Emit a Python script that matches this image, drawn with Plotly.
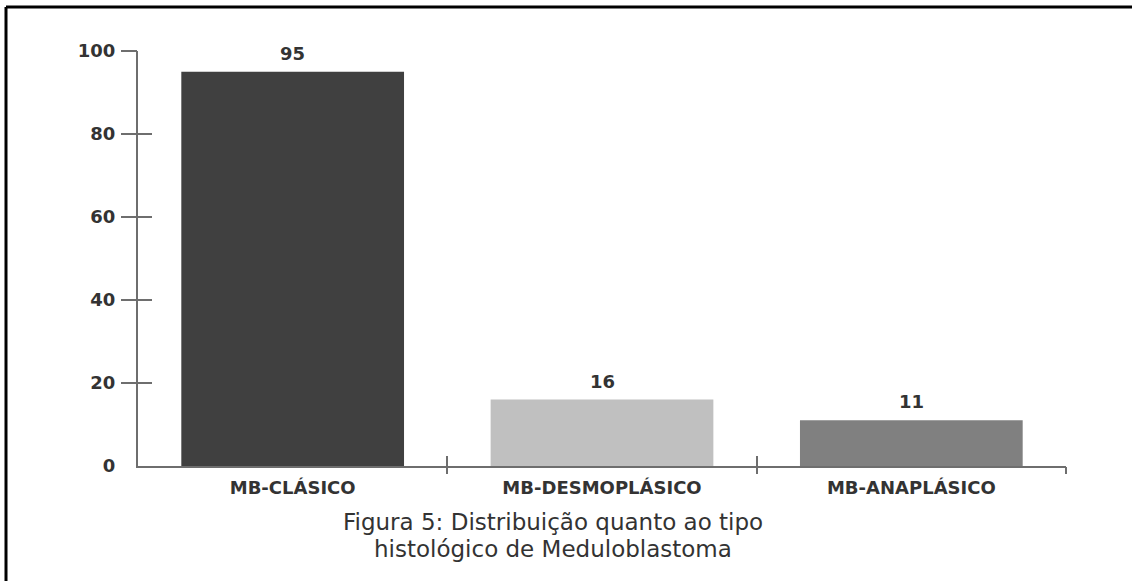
import plotly.graph_objects as go

# Histological types of medulloblastoma and case counts
categories = ["MB-CLÁSICO", "MB-DESMOPLÁSICO", "MB-ANAPLÁSICO"]
counts = [95, 16, 11]
bar_colors = ["#404040", "#c0c0c0", "#808080"]
y_ticks = [0, 20, 40, 60, 80, 100]
title_lines = ["Figura 5: Distribuição quanto ao tipo", "histológico de Meduloblastoma"]

W, H = 1132, 581
ML, MR, MT, MB = 138, 66, 51, 115
PW, PH = W - ML - MR, H - MT - MB

positions = list(range(len(categories)))
boundaries = [p + 0.5 for p in positions]

axis_color = "#6e6e6e"
text_color = "#333333"
font_family = "DejaVu Sans"

fig = go.Figure()
fig.add_trace(go.Bar(
    x=positions, y=counts, width=0.72,
    marker=dict(color=bar_colors, line=dict(width=0)),
    showlegend=False, hoverinfo="skip",
))

# Value labels above each bar
for p, v in zip(positions, counts):
    fig.add_annotation(
        x=p, y=v, text=f"<b>{v}</b>", showarrow=False,
        xanchor="center", yanchor="bottom", yshift=6,
        font=dict(family=font_family, size=18, color=text_color),
    )

def px_to_paper_x(px):
    return (px - ML) / PW

def px_to_paper_y(py):
    return (H - MB - py) / PH

fig.update_layout(
    width=W, height=H,
    margin=dict(l=ML, r=MR, t=MT, b=MB),
    paper_bgcolor="white", plot_bgcolor="white",
    xaxis=dict(
        range=[-0.5, len(categories) - 0.5], tickvals=positions,
        ticktext=[f"<b>{c}</b>" for c in categories],
        ticks="", showgrid=False, zeroline=False,
        showline=True, linecolor=axis_color, linewidth=2,
        tickfont=dict(family=font_family, size=18, color=text_color),
        ticklabelstandoff=4,
    ),
    xaxis2=dict(
        overlaying="x", matches="x", tickvals=boundaries, showticklabels=False,
        ticks="outside", ticklen=7, tickwidth=2, tickcolor=axis_color,
        showgrid=False, zeroline=False, showline=False,
    ),
    xaxis3=dict(
        overlaying="x", matches="x", tickvals=boundaries, showticklabels=False,
        ticks="inside", ticklen=10, tickwidth=2, tickcolor=axis_color,
        showgrid=False, zeroline=False, showline=False,
    ),
    yaxis=dict(
        range=[0, 100], tickvals=y_ticks, ticktext=[f"<b>{t}</b>" for t in y_ticks],
        ticks="", showgrid=False, zeroline=False,
        showline=True, linecolor=axis_color, linewidth=2,
        tickfont=dict(family=font_family, size=18, color=text_color),
        ticklabelstandoff=17,
    ),
    yaxis2=dict(
        overlaying="y", matches="y", tickvals=y_ticks[1:], showticklabels=False,
        ticks="outside", ticklen=16, tickwidth=2, tickcolor=axis_color,
        showgrid=False, zeroline=False, showline=False,
    ),
    yaxis3=dict(
        overlaying="y", matches="y", tickvals=y_ticks[1:], showticklabels=False,
        ticks="inside", ticklen=14, tickwidth=2, tickcolor=axis_color,
        showgrid=False, zeroline=False, showline=False,
    ),
)

# Invisible traces so the overlay axes are drawn
for xa, ya in [("x2", "y2"), ("x3", "y3")]:
    fig.add_trace(go.Scatter(x=[positions[0]], y=[0], xaxis=xa, yaxis=ya,
                             mode="markers", marker=dict(opacity=0),
                             showlegend=False, hoverinfo="skip"))

# Caption under the chart, one annotation per line for tight spacing
for line, py in zip(title_lines, [522, 549]):
    fig.add_annotation(
        xref="paper", yref="paper", x=px_to_paper_x(553), y=px_to_paper_y(py),
        xanchor="center", yanchor="middle", showarrow=False,
        text=line, font=dict(family=font_family, size=23, color=text_color),
    )

# Frame lines along the left and top edges
left, top = px_to_paper_x(6), px_to_paper_y(7)
fig.add_shape(type="line", xref="paper", yref="paper",
              x0=left, x1=left, y0=px_to_paper_y(H + 10), y1=top,
              line=dict(color="black", width=3))
fig.add_shape(type="line", xref="paper", yref="paper",
              x0=left, x1=px_to_paper_x(W + 10), y0=top, y1=top,
              line=dict(color="black", width=3))

fig.write_html("out.html")
